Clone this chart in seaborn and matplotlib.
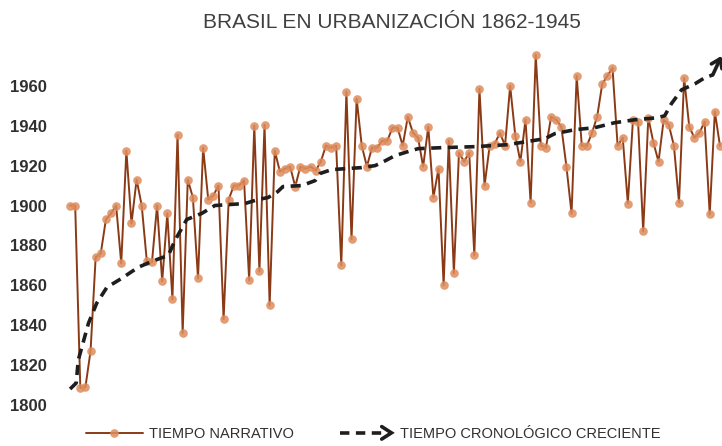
import numpy as np
import pandas as pd
import seaborn as sns
import matplotlib
matplotlib.use("Agg")
import matplotlib.pyplot as plt
from matplotlib.lines import Line2D
from matplotlib.legend_handler import HandlerBase

# ---------------- data ----------------
narrative_years = [
    1900, 1900, 1808.5, 1809, 1827, 1874, 1876, 1893, 1896, 1900,
    1871, 1927.5, 1891, 1913, 1900, 1872, 1871.5, 1900, 1862, 1896,
    1853, 1935.5, 1836, 1913, 1904, 1863.5, 1929, 1903, 1905, 1910,
    1843, 1903, 1910, 1910, 1912.5, 1862.5, 1940, 1867, 1940.5, 1850,
    1927.5, 1917, 1918.5, 1919.5, 1909.5, 1919.5, 1918.5, 1919.5, 1917.5, 1922,
    1930, 1929, 1930, 1870, 1957, 1883, 1953.5, 1930, 1919.5, 1929,
    1929, 1932.5, 1932.5, 1939, 1939, 1930, 1944.5, 1936.5, 1934, 1919.5,
    1939.5, 1904, 1918.5, 1860, 1932.5, 1866, 1926.5, 1922, 1926.5, 1875,
    1958.5, 1910, 1930, 1931, 1936.5, 1930, 1960, 1935, 1922, 1943,
    1901.5, 1975.5, 1930, 1929, 1944.5, 1943, 1939.5, 1919.5, 1896, 1965,
    1930, 1930, 1936.5, 1944.5, 1961, 1965, 1969, 1930, 1934, 1901,
    1943, 1942, 1887, 1944, 1931.5, 1922, 1943, 1940.5, 1930, 1901.5,
    1964, 1939.5, 1934, 1936.5, 1942, 1895.5, 1947, 1930,
]
narrative_index = list(range(len(narrative_years)))

chrono_index = [0, 1.2, 1.6, 3.6, 5.2, 7.2, 10.1, 13.3, 16, 19.2, 20.5, 22.8,
                25.7, 28.3, 34.2, 36.7, 38.7, 40.6, 41.6, 45.3, 47.9, 48.8,
                51.1, 57, 59.6, 60.9, 63.5, 66, 68, 72.6, 79.1, 85.5, 92.8,
                94.7, 98.6, 102.5, 106.4, 110.4, 114.8, 116.2, 117.5, 119.5,
                122.1, 124, 125.6, 127.3]
chrono_years = [1808, 1811, 1822.5, 1841, 1851, 1859, 1863.5, 1869, 1872, 1875,
                1882.5, 1893, 1896, 1900, 1901, 1903, 1904, 1907, 1909.5, 1910,
                1912.5, 1916, 1918, 1919, 1920, 1921.5, 1925, 1927, 1928.5, 1929,
                1929.5, 1930.5, 1933.5, 1936, 1938, 1939, 1941.5, 1943, 1944,
                1945, 1951, 1958, 1961, 1964, 1965.5, 1975]

y_ticks = [1800, 1820, 1840, 1860, 1880, 1900, 1920, 1940, 1960]
title = "BRASIL EN URBANIZACIÓN 1862-1945"
label_narr = "TIEMPO NARRATIVO"
label_chrono = "TIEMPO CRONOLÓGICO CRECIENTE"

# ---------------- style ----------------
sns.set_theme(style="white")
plt.rcParams["font.family"] = ["Liberation Sans", "DejaVu Sans"]

line_col = "#8B3A16"
marker_col = (0.87, 0.55, 0.36, 0.85)
dash_col = "#1e1e1e"

fig = plt.figure(figsize=(7.22, 4.46), dpi=100)
ax = fig.add_axes([0.086, 0.092, 0.914, 0.805])

df_n = pd.DataFrame({"i": narrative_index, "year": narrative_years})
df_c = pd.DataFrame({"i": chrono_index, "year": chrono_years})

sns.lineplot(data=df_n, x="i", y="year", ax=ax, color=line_col, lw=1.4,
             marker="o", markersize=6.2, markerfacecolor=marker_col,
             markeredgecolor=marker_col, markeredgewidth=0, zorder=2)
sns.lineplot(data=df_c.iloc[:-1], x="i", y="year", ax=ax, color=dash_col, lw=2.6,
             zorder=3)
ax.lines[-1].set_linestyle((0, (2.8, 1.8)))
ax.annotate("", xy=(chrono_index[-1], chrono_years[-1]),
            xytext=(chrono_index[-2], chrono_years[-2]),
            arrowprops=dict(arrowstyle="->,head_length=0.5,head_width=0.35",
                            color=dash_col, lw=2.6, shrinkA=0, shrinkB=0),
            zorder=3, annotation_clip=False)

ax.set_xlim(-1.56, 127.4)
ax.set_ylim(1800, 1980)
ax.set_yticks(y_ticks)
ax.set_yticklabels([str(t) for t in y_ticks], fontsize=12, fontweight="bold",
                   color="#303030")
ax.set_xticks([])
ax.set_xlabel("")
ax.set_ylabel("")
ax.tick_params(axis="y", length=0, pad=11)
for s in ax.spines.values():
    s.set_visible(False)

ax.set_title(title, fontsize=15, color="#404040", pad=13)


class ArrowHandler(HandlerBase):
    def create_artists(self, legend, orig_handle, xdescent, ydescent, width,
                       height, fontsize, trans):
        y = height / 2 - ydescent
        x0 = -xdescent
        x1 = width - xdescent
        dash = Line2D([x0 + 2, x1 - 8], [y, y], color=dash_col, lw=2.6,
                      linestyle=(0, (2.6, 1.8)), transform=trans)
        chev = Line2D([x1 - 9, x1 - 2, x1 - 9], [y + 4.5, y, y - 4.5],
                      color=dash_col, lw=2.6, transform=trans,
                      solid_joinstyle="miter")
        return [dash, chev]


h_narr = Line2D([], [], color=line_col, lw=1.4, marker="o", markersize=6.2,
                markerfacecolor=marker_col, markeredgewidth=0)
h_chrono = Line2D([], [])
leg = fig.legend([h_narr, h_chrono], [label_narr, label_chrono],
                 loc="center", bbox_to_anchor=(0.517, 0.027), ncol=2,
                 frameon=False, fontsize=10.5, handlelength=3.9,
                 handletextpad=0.4, columnspacing=3.0,
                 handler_map={h_chrono: ArrowHandler()})
for t in leg.get_texts():
    t.set_color("#303030")

fig.savefig("out.png", dpi=100)
